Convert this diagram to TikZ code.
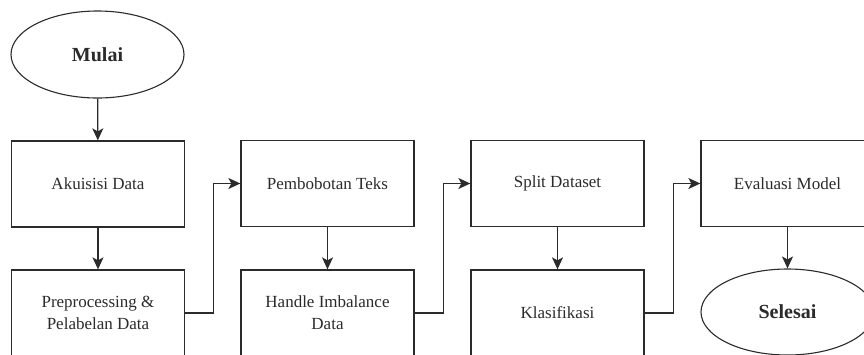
\documentclass[tikz,border=0pt]{standalone}
\usepackage{fontspec}
\setmainfont{Liberation Serif}
\usetikzlibrary{shapes.geometric,arrows.meta}
\definecolor{ink}{HTML}{2B2B2B}
\begin{document}
\begin{tikzpicture}[x=1pt,y=-1pt,
  box/.style={draw=ink, line width=1.3pt, minimum width=173pt, minimum height=86pt,
    inner sep=0pt, align=center, text=ink, font=\fontsize{17}{22}\selectfont},
  term/.style={ellipse, draw=ink, line width=1.1pt, minimum width=173pt, minimum height=87pt,
    inner sep=0pt, text=ink, font=\bfseries\fontsize{20}{24}\selectfont},
  flow/.style={draw=ink, line width=1.3pt, -{Stealth[length=12pt,width=11pt,inset=3pt]}}]
\useasboundingbox (0,0) rectangle (864,354);
\clip (0,0) rectangle (864,354);
\node[term] (mulai) at (97.5,54.5) {Mulai};
\node[box] (a1) at (98,184) {Akuisisi Data};
\node[box] (a2) at (98,313) {Preprocessing \&\\Pelabelan Data};
\node[box] (b1) at (327.5,183.5) {Pembobotan Teks};
\node[box] (b2) at (327.5,313) {Handle Imbalance\\Data};
\node[box] (c1) at (557.5,183.5) {Split Dataset};
\node[box] (c2) at (557.5,313) {Klasifikasi};
\node[box] (d1) at (787.5,183.5) {Evaluasi Model};
\node[term, minimum height=86pt] (selesai) at (787.5,312) {Selesai};
\draw[flow] (mulai) -- (a1);
\draw[flow] (a1) -- (a2);
\draw[flow] (b1) -- (b2);
\draw[flow] (c1) -- (c2);
\draw[flow] (d1) -- (selesai);
\draw[flow] (a2.east) -- ++(28,0) |- (b1.west);
\draw[flow] (b2.east) -- ++(29,0) |- (c1.west);
\draw[flow] (c2.east) -- ++(29,0) |- (d1.west);
\end{tikzpicture}
\end{document}
